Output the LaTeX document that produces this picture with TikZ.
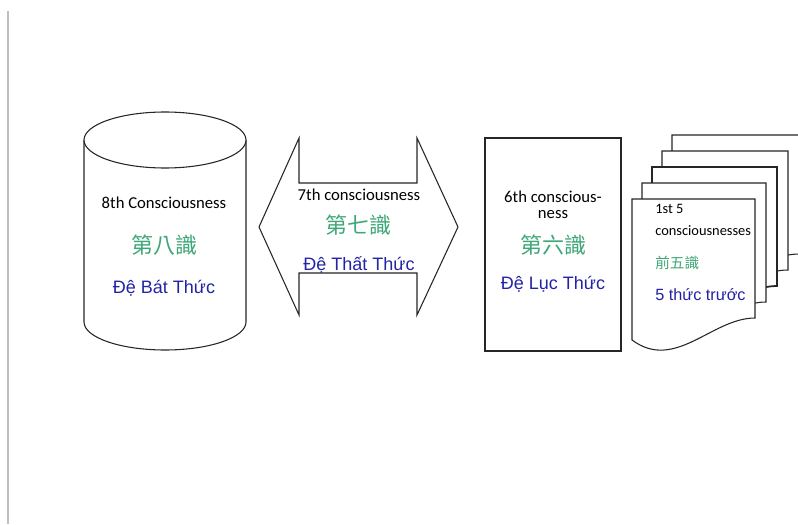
\documentclass[tikz,border=0pt]{standalone}
\usepackage{fontspec}
\setmainfont{Carlito}
\newfontfamily\vnfont{Liberation Sans}
\newfontfamily\cjkfont{Noto Sans CJK TC}
\usepackage{xcolor}
\usepackage{tikz}
\usetikzlibrary{positioning}

\definecolor{zhgreen}{RGB}{64,168,120}
\definecolor{vnblue}{RGB}{35,35,165}

\begin{document}
\begin{tikzpicture}[
    x=0.75pt, y=-0.75pt,
    outline/.style={draw=black!85, line width=0.8pt, fill=white},
    en/.style={font=\fontsize{12.5}{11.5}\selectfont, anchor=base, inner sep=0pt},
    zh/.style={font=\cjkfont\fontsize{16.5}{18}\selectfont, text=zhgreen, anchor=base, inner sep=0pt},
    vn/.style={font=\vnfont\fontsize{13.5}{16}\selectfont, text=vnblue, anchor=base, inner sep=0pt},
]
\useasboundingbox (0,0) rectangle (798,524);
\clip (0,0) rectangle (798,524);

% page margin line
\draw[gray!50, line width=1.2pt] (8,11) -- (8,524);

% === 8th: cylinder ===
\draw[outline] (84,140) -- (84,322) arc[start angle=180, end angle=0, x radius=81, y radius=28] -- (246,140);
\draw[outline] (165,140) ellipse [x radius=81, y radius=28];
\node[en] (c8en) at (164,208) {8th Consciousness};
\node[zh] (c8zh) at (164,253) {第八識};
\node[vn] (c8vn) at (164,293) {Đệ Bát Thức};

% === 7th: double arrow ===
\draw[outline] (259,227) -- (299,138) -- (299,183) -- (417,183) -- (417,138) -- (458,227)
    -- (417,315) -- (417,273) -- (299,273) -- (299,315) -- cycle;
\node[en] (c7en) at (359,200) {7th consciousness};
\node[zh] (c7zh) at (358,233) {第七識};
\node[vn] (c7vn) at (359,270) {Đệ Thất Thức};

% === 6th: box ===
\draw[outline] (485,138) rectangle (621,351);
\node[en, align=center] (c6en) at (553,218) {6th conscious-\\ness};
\node[zh] (c6zh) at (553,253) {第六識};
\node[vn] (c6vn) at (553,289) {Đệ Lục Thức};

% === 1st 5: stacked pages ===
\foreach \i/\lw in {4/0.8, 3/0.8, 2/1.3, 1/0.8, 0/0.8}{
    \pgfmathsetmacro\xa{632+10*\i}
    \pgfmathsetmacro\ya{199-16*\i}
    \pgfmathsetmacro\wd{123+\i}
    \draw[outline, line width=\lw pt] (\xa,\ya+141) -- (\xa,\ya) -- ++(\wd,0) -- ++(0,119)
        .. controls ++(-0.35*\wd,0) and (\xa+0.35*\wd,\ya+173) .. (\xa,\ya+141) -- cycle;
}
\node[en, anchor=base west, align=left, font=\fontsize{10.8}{16.5}\selectfont] (c5en) at (655,235) {1st 5\\consciousnesses};
\node[zh, anchor=base west, font=\cjkfont\fontsize{11}{13}\selectfont] (c5zh) at (655,268) {前五識};
\node[vn, anchor=base west, font=\vnfont\fontsize{12.2}{14}\selectfont] (c5vn) at (655,300) {5 thức trước};

\end{tikzpicture}
\end{document}
